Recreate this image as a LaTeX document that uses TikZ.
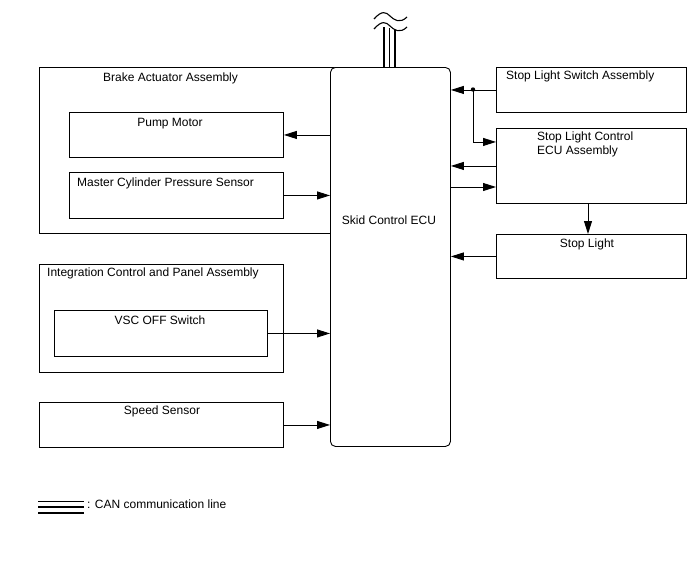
\documentclass[tikz,border=0pt]{standalone}
\usepackage{fontspec}
\setmainfont{Liberation Sans}
\usetikzlibrary{positioning}
\usetikzlibrary{arrows.meta}

\begin{document}
\begin{tikzpicture}[x=1pt, y=-1pt,
	box/.style={draw, line width=0.9pt, inner sep=0pt, anchor=north west},
	txt/.style={inner sep=0pt, font=\fontsize{12}{14}\selectfont},
	sig/.style={-{Triangle[length=13pt, width=8pt]}, line width=0.9pt},
	can/.style={line width=1.1pt}]
	\useasboundingbox (0,0) rectangle (688,560);

	% left side
	\node [box, minimum width=316pt, minimum height=166pt] (brake) at (39,67) {};
	\node [txt, anchor=north west] (brake_t) at (103,73) {Brake Actuator Assembly};
	\node [box, minimum width=214pt, minimum height=45pt] (pump) at (69,112) {};
	\node [txt, anchor=north] (pump_t) at (170,118) {Pump Motor};
	\node [box, minimum width=214pt, minimum height=46pt] (mcps) at (69,172) {};
	\node [txt, anchor=north west] (mcps_t) at (77,178) {Master Cylinder Pressure Sensor};

	\node [box, minimum width=244pt, minimum height=108pt] (icpa) at (39,264) {};
	\node [txt, anchor=north west] (icpa_t) at (47,268) {Integration Control and Panel Assembly};
	\node [box, minimum width=213pt, minimum height=46pt] (vsc) at (54,310) {};
	\node [txt, anchor=north] (vsc_t) at (160,316) {VSC OFF Switch};

	\node [box, minimum width=244pt, minimum height=45pt] (speed) at (39,402) {};
	\node [txt, anchor=north] (speed_t) at (162,406) {Speed Sensor};

	% skid control ECU
	\node [box, fill=white, rounded corners=5pt, minimum width=120pt, minimum height=379pt] (ecu) at (330,67) {};
	\node [txt] (ecu_t) at (389,220) {Skid Control ECU};

	% right side
	\node [box, minimum width=190pt, minimum height=45pt] (sls) at (496,67) {};
	\node [txt, anchor=north west] (sls_t) at (506,71) {Stop Light Switch Assembly};
	\node [box, minimum width=190pt, minimum height=75pt] (slc) at (496,128) {};
	\node [txt, anchor=north west, align=left] (slc_t) at (537,132) {Stop Light Control\\ECU Assembly};
	\node [box, minimum width=190pt, minimum height=44pt] (stop) at (496,234) {};
	\node [txt, anchor=north] (stop_t) at (587,239) {Stop Light};

	% signals
	\draw [sig] (ecu.west |- pump.east) -- (pump.east);
	\draw [sig] (mcps.east) -- (ecu.west |- mcps.east);
	\draw [sig] (vsc.east) -- (ecu.west |- vsc.east);
	\draw [sig] (speed.east) -- (ecu.west |- speed.east);
	\draw [sig] (sls.west) -- (ecu.east |- sls.west);
	\coordinate (split) at (473,89.5);
	\fill (split) circle (2.2pt);
	\draw [sig] (split) |- ([yshift=24pt]slc.west);
	\draw [sig] (slc.west) -- (ecu.east |- slc.west);
	\draw [sig] (ecu.east |- 0,187) -- (slc.west |- 0,187);
	\draw [sig] (slc.south -| 588,0) -- (stop.north -| 588,0);
	\draw [sig] (stop.west) -- (ecu.east |- stop.west);

	% CAN lines
	\draw [line width=2pt] (ecu.north -| 384,0) -- (384,27);
	\draw [can] (ecu.north -| 389.5,0) -- (389.5,28);
	\draw [can] (ecu.north -| 395,0) -- (395,30);
	\draw [line width=1.1pt] (374,19) .. controls (382,10) and (386,12) .. (390,16) .. controls (394,20) and (400,24) .. (407,17);
	\draw [line width=1.1pt] (374,29) .. controls (382,20) and (386,22) .. (390,26) .. controls (394,30) and (400,34) .. (407,27);

	% legend
	\draw [can] (38,501.5) -- (84,501.5);
	\draw [can] (38,507) -- (84,507);
	\draw [line width=2pt] (38,513) -- (84,513);
	\node [txt, anchor=west] (legend_t) at (87,504) {: CAN communication line};
\end{tikzpicture}
\end{document}
